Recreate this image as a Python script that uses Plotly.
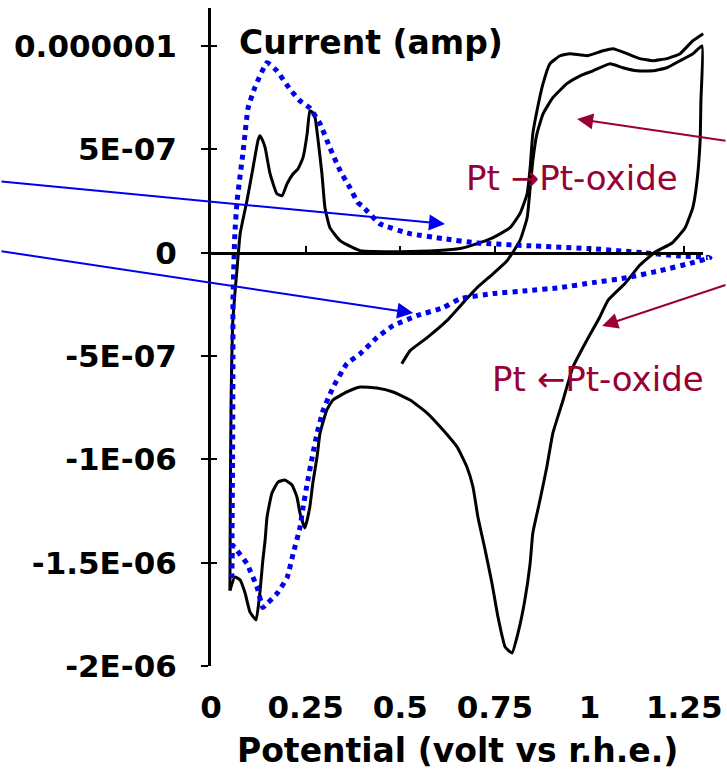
import plotly.graph_objects as go
import numpy as np

# Potential (V vs RHE) and current (micro-amp)
# Black CV, first anodic sweep (outer branch)
black_a_x = [0.050, 0.051, 0.053, 0.057, 0.063, 0.069, 0.077, 0.095, 0.111, 0.124, 0.129, 0.136,
             0.143, 0.156, 0.174, 0.188, 0.201, 0.217, 0.230, 0.243, 0.254, 0.261, 0.268, 0.275,
             0.283, 0.293, 0.301, 0.314, 0.341, 0.375, 0.394, 0.500, 0.600, 0.658, 0.703, 0.745,
             0.790, 0.816, 0.835, 0.843, 0.850, 0.861, 0.877, 0.895, 0.922, 0.948, 0.993, 1.035,
             1.062, 1.099, 1.133, 1.167, 1.204, 1.239, 1.273, 1.300]
black_a_uA = [-1.635, -1.200, -0.720, -0.350, -0.200, -0.073, 0.092, 0.252, 0.411, 0.542, 0.566, 0.545,
              0.508, 0.382, 0.285, 0.276, 0.334, 0.382, 0.406, 0.460, 0.576, 0.687, 0.680, 0.653,
              0.542, 0.382, 0.218, 0.121, 0.058, 0.024, 0.010, 0.005, 0.010, 0.020, 0.044, 0.073,
              0.121, 0.189, 0.285, 0.411, 0.576, 0.687, 0.818, 0.914, 0.953, 0.963, 0.953, 0.977,
              0.987, 0.963, 0.939, 0.929, 0.939, 0.963, 1.026, 1.060]

# Black CV, second anodic branch (from 0.5 V) followed by cathodic sweep
black_b_x = [0.504, 0.526, 0.571, 0.623, 0.671, 0.703, 0.745, 0.782, 0.816, 0.835, 0.843, 0.850,
             0.861, 0.877, 0.903, 0.940, 0.975, 1.009, 1.054, 1.088, 1.125, 1.167, 1.204, 1.239,
             1.273, 1.297,
             1.294, 1.292, 1.284, 1.273, 1.252, 1.218, 1.173, 1.133, 1.094, 1.049, 1.027, 0.993,
             0.956, 0.930, 0.903, 0.887, 0.869, 0.850, 0.843, 0.829, 0.811, 0.795, 0.777, 0.758,
             0.742, 0.724, 0.705, 0.692, 0.676, 0.650, 0.613, 0.571, 0.526, 0.481, 0.438, 0.394,
             0.359, 0.322, 0.306, 0.288, 0.280, 0.269, 0.261, 0.248, 0.235, 0.227, 0.214, 0.195,
             0.177, 0.161, 0.148, 0.143, 0.137, 0.129, 0.119, 0.103, 0.090, 0.077, 0.063, 0.050]
black_b_uA = [-0.537, -0.474, -0.411, -0.329, -0.232, -0.169, -0.102, -0.039, 0.058, 0.169, 0.314, 0.445,
              0.576, 0.672, 0.750, 0.818, 0.856, 0.880, 0.914, 0.895, 0.880, 0.880, 0.895, 0.929,
              0.963, 1.001,
              0.735, 0.545, 0.351, 0.221, 0.119, 0.047, 0.003, -0.060, -0.148, -0.230, -0.311, -0.423,
              -0.553, -0.713, -0.873, -1.037, -1.197, -1.357, -1.502, -1.681, -1.840, -1.937, -1.908, -1.763,
              -1.598, -1.438, -1.279, -1.134, -1.037, -0.940, -0.858, -0.776, -0.713, -0.674, -0.655, -0.650,
              -0.674, -0.713, -0.761, -0.873, -0.989, -1.115, -1.231, -1.332, -1.260, -1.182, -1.124, -1.100,
              -1.110, -1.163, -1.279, -1.390, -1.487, -1.647, -1.777, -1.739, -1.647, -1.584, -1.569, -1.635]

# Blue dotted CV (full cycle)
blue_x = [0.055, 0.057, 0.058, 0.058, 0.063, 0.069, 0.085, 0.098, 0.116, 0.148, 0.174, 0.209,
          0.235, 0.261, 0.288, 0.314, 0.341, 0.367, 0.388, 0.399, 0.446, 0.526, 0.613, 0.703,
          0.835, 1.009, 1.141, 1.231, 1.318, 1.273, 1.186, 1.099, 1.009, 0.922, 0.835, 0.745,
          0.658, 0.613, 0.544, 0.481, 0.438, 0.394, 0.359, 0.322, 0.296, 0.280, 0.267, 0.254,
          0.243, 0.235, 0.217, 0.201, 0.174, 0.148, 0.137, 0.122, 0.095, 0.069, 0.058, 0.055]
blue_uA = [-1.563, -1.000, -0.500, -0.232, 0.092, 0.252, 0.493, 0.700, 0.800, 0.919, 0.880, 0.790,
           0.735, 0.700, 0.624, 0.508, 0.397, 0.314, 0.242, 0.227, 0.140, 0.092, 0.068, 0.047,
           0.034, 0.019, 0.000, -0.015, -0.024, -0.048, -0.087, -0.121, -0.145, -0.169, -0.184, -0.198,
           -0.223, -0.266, -0.305, -0.353, -0.411, -0.489, -0.537, -0.653, -0.764, -0.876, -0.992, -1.118,
           -1.234, -1.330, -1.456, -1.572, -1.650, -1.698, -1.717, -1.621, -1.505, -1.442, -1.418, -1.563]

# Axis ticks
x_tickvals = [0, 0.25, 0.5, 0.75, 1.0, 1.25]
x_ticktext = ["0", "0.25", "0.5", "0.75", "1", "1.25"]
y_tickvals = [1e-6, 5e-7, 0, -5e-7, -1e-6, -1.5e-6, -2e-6]
y_ticktext = ["0.000001", "5E-07", "0", "-5E-07", "-1E-06", "-1.5E-06", "-2E-06"]

UA = 1e-6  # micro-amp to amp
BOLD = dict(family="DejaVu Sans", size=31, color="black", weight="bold")
RED = "#990033"
BLUE = "#0000F0"

fig = go.Figure()
# empty traces only to register the decorative axes (zero-line x axis, crossing y ticks)
fig.add_trace(go.Scatter(x=[], y=[], xaxis="x3", yaxis="y", hoverinfo="skip", showlegend=False))
fig.add_trace(go.Scatter(x=[], y=[], xaxis="x", yaxis="y2", hoverinfo="skip", showlegend=False))

line_kw = dict(shape="spline", smoothing=0.4)
fig.add_trace(go.Scatter(x=black_a_x, y=np.array(black_a_uA) * UA, mode="lines",
                         line=dict(color="black", width=3, **line_kw), hoverinfo="skip", showlegend=False))
fig.add_trace(go.Scatter(x=black_b_x, y=np.array(black_b_uA) * UA, mode="lines",
                         line=dict(color="black", width=3, **line_kw), hoverinfo="skip", showlegend=False))
fig.add_trace(go.Scatter(x=blue_x, y=np.array(blue_uA) * UA, mode="lines",
                         line=dict(color=BLUE, width=5, dash="dot", **line_kw), hoverinfo="skip",
                         showlegend=False))

YMIN, YMAX = -2e-6, 1.184e-6
XMAX = 1.355

fig.update_layout(
    width=727, height=772,
    margin=dict(l=211, r=3, t=8, b=106),
    paper_bgcolor="white", plot_bgcolor="rgba(0,0,0,0)",
    xaxis=dict(range=[0, XMAX], showline=False, zeroline=False, showgrid=False,
               tickmode="array", tickvals=x_tickvals, ticktext=x_ticktext, ticks="",
               tickfont=BOLD, ticklabelstandoff=20, fixedrange=True),
    xaxis3=dict(domain=[0, 1.3 / XMAX], range=[0, 1.3], anchor="free", position=(0 - YMIN) / (YMAX - YMIN),
                showline=True, linecolor="black", linewidth=3, ticks="inside", ticklen=6, tickwidth=2,
                tickcolor="black", tickmode="array", tickvals=x_tickvals[1:], showticklabels=False,
                showgrid=False, zeroline=False),
    yaxis=dict(range=[YMIN, YMAX], showline=True, linecolor="black", linewidth=3, zeroline=False,
               showgrid=False, ticks="outside", ticklen=7, tickwidth=2, tickcolor="black",
               tickmode="array", tickvals=y_tickvals, ticktext=y_ticktext, tickfont=BOLD,
               ticklabelstandoff=18),
    yaxis2=dict(range=[YMIN, YMAX], overlaying="y", anchor="x", side="left", showline=False,
                zeroline=False, showgrid=False, ticks="inside", ticklen=6, tickwidth=2, tickcolor="black",
                tickmode="array", tickvals=y_tickvals, showticklabels=False),
)

TITLE_FONT = dict(family="DejaVu Sans", size=33, color="black", weight="bold")
RED_FONT = dict(family="DejaVu Sans", size=34, color=RED)

ann = [
    dict(text="Current (amp)", x=0.0687, y=1.019e-6, xref="x", yref="y", xanchor="left", yanchor="middle",
         showarrow=False, font=TITLE_FONT),
    dict(text="Potential (volt vs r.h.e.)", x=0.481, y=-0.128, xref="paper", yref="paper",
         xanchor="center", yanchor="middle", showarrow=False, font=TITLE_FONT),
    dict(text="Pt \u2192Pt-oxide", x=0.668, y=0.361e-6, xref="x", yref="y", xanchor="left", yanchor="middle",
         showarrow=False, font=RED_FONT),
    dict(text="Pt \u2190Pt-oxide", x=0.737, y=-0.609e-6, xref="x", yref="y", xanchor="left", yanchor="middle",
         showarrow=False, font=RED_FONT),
]
arrows = [
    (0.618, 0.139e-6, -450, -42.5, BLUE),
    (0.534, -0.292e-6, -418, -62, BLUE),
    (0.967, 0.647e-6, 158, 22, RED),
    (1.033, -0.355e-6, 133, -41.5, RED),
]
for hx, hy, ax, ay, col in arrows:
    ann.append(dict(text="", x=hx, y=hy, xref="x", yref="y", ax=ax, ay=ay, axref="pixel", ayref="pixel",
                    showarrow=True, arrowhead=2, arrowsize=1.6, arrowwidth=2, arrowcolor=col, standoff=0))
fig.update_layout(annotations=ann)

fig.write_html("out.html")
